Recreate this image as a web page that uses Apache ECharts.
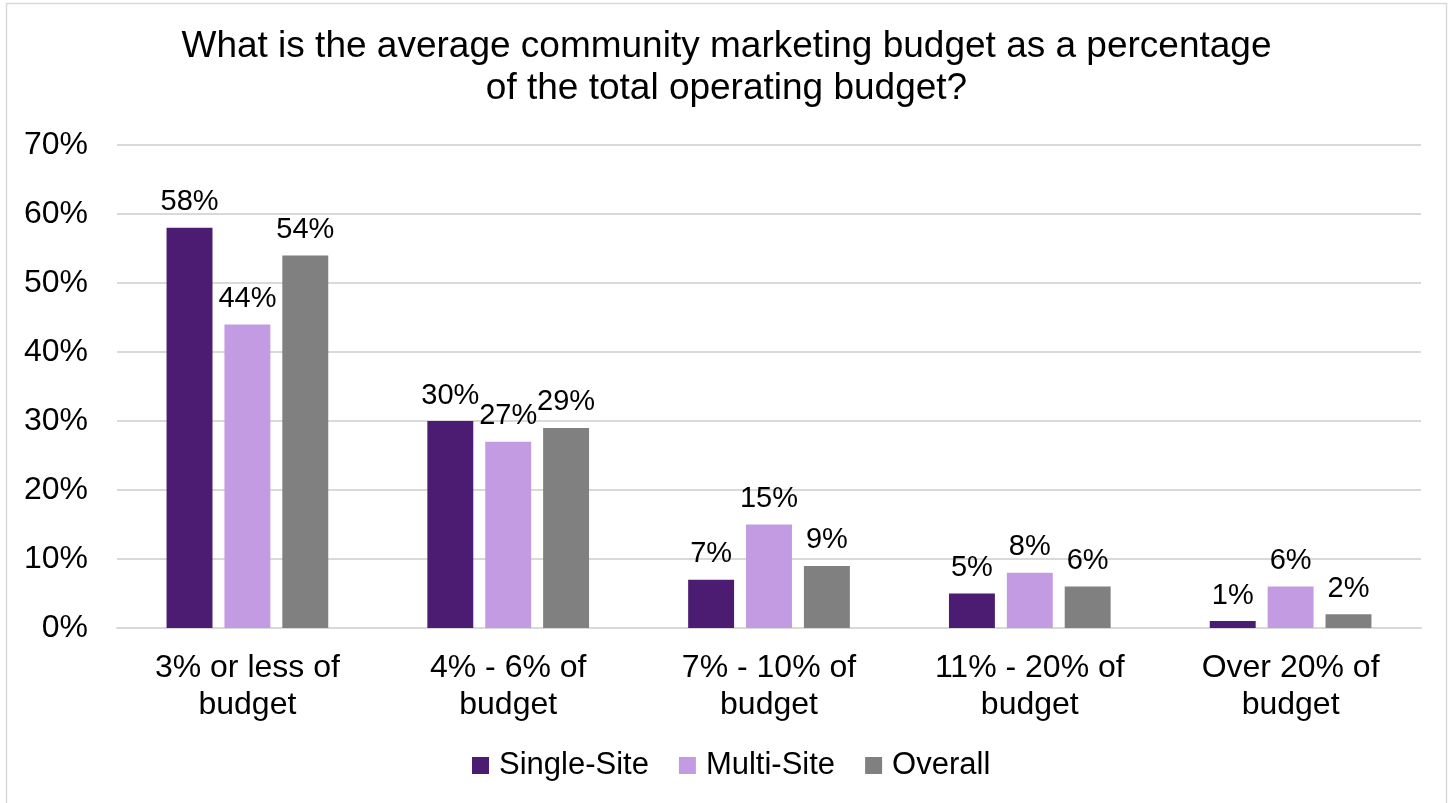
<!DOCTYPE html>
<html>
<head>
<meta charset="utf-8">
<script src="https://cdn.jsdelivr.net/npm/echarts@6/dist/echarts.min.js"></script>
<style>
  html, body { margin: 0; padding: 0; background: #fff; }
  #chart { width: 1453px; height: 803px; }
</style>
</head>
<body>
<div id="chart"></div>
<script>
// Budget bands on the x axis
const categories = [
  '3% or less of\nbudget',
  '4% - 6% of\nbudget',
  '7% - 10% of\nbudget',
  '11% - 20% of\nbudget',
  'Over 20% of\nbudget'
];

// Share of respondents (%) per band
const singleSite = [58, 30, 7, 5, 1];
const multiSite = [44, 27, 15, 8, 6];
const overall = [54, 29, 9, 6, 2];

const yTicks = [0, 10, 20, 30, 40, 50, 60, 70];

const FONT = '"Liberation Sans", Arial, sans-serif';

const chart = echarts.init(document.getElementById('chart'));

function barSeries(name, data, color) {
  return {
    name: name,
    type: 'bar',
    data: data,
    barGap: '26%',
    barCategoryGap: '38%',
    itemStyle: { color: color },
    label: {
      show: true,
      position: 'top',
      distance: 11,
      formatter: p => p.value + '%',
      color: '#000',
      fontFamily: FONT,
      fontSize: 29
    }
  };
}

chart.setOption({
  backgroundColor: '#fff',
  animation: false,
  graphic: [{
    type: 'rect',
    shape: { x: 6.5, y: 3.5, width: 1440, height: 820 },
    style: { fill: 'none', stroke: '#d9d9d9', lineWidth: 1.5 },
    silent: true,
    z: -1
  }],
  title: {
    text: 'What is the average community marketing budget as a percentage\nof the total operating budget?',
    left: 'center',
    top: 21,
    textStyle: {
      fontFamily: FONT,
      fontWeight: 'normal',
      fontSize: 37,
      lineHeight: 42,
      color: '#000'
    }
  },
  legend: {
    data: ['Single-Site', 'Multi-Site', 'Overall'],
    bottom: 17,
    left: 467,
    itemWidth: 17,
    itemHeight: 17,
    itemGap: 30,
    icon: 'rect',
    textStyle: {
      fontFamily: FONT,
      fontSize: 31,
      color: '#000',
      padding: [0, 0, 0, 5]
    }
  },
  grid: {
    left: 117,
    right: 32,
    top: 145,
    bottom: 175,
    containLabel: false
  },
  xAxis: {
    type: 'category',
    data: categories,
    axisLine: { lineStyle: { color: '#d9d9d9', width: 2 } },
    axisTick: { show: false },
    axisLabel: {
      fontFamily: FONT,
      fontSize: 32,
      lineHeight: 37,
      color: '#000',
      margin: 22,
      interval: 0
    }
  },
  yAxis: {
    type: 'value',
    min: yTicks[0],
    max: yTicks[yTicks.length - 1],
    interval: 10,
    axisLine: { show: false },
    axisTick: { show: false },
    splitLine: { lineStyle: { color: '#d9d9d9', width: 2 } },
    axisLabel: {
      fontFamily: FONT,
      fontSize: 32,
      color: '#000',
      margin: 29,
      formatter: v => v + '%'
    }
  },
  series: [
    barSeries('Single-Site', singleSite, '#4b1c71'),
    barSeries('Multi-Site', multiSite, '#c39be3'),
    barSeries('Overall', overall, '#808080')
  ]
});
</script>
</body>
</html>
